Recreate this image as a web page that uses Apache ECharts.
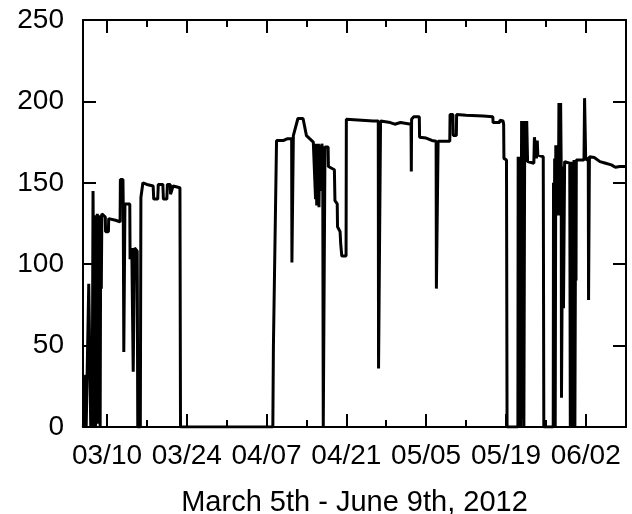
<!DOCTYPE html>
<html><head><meta charset="utf-8">
<script src="https://cdn.jsdelivr.net/npm/echarts@6/dist/echarts.min.js"></script>
<style>html,body{margin:0;padding:0;background:#fff}#c{width:632px;height:514px}</style>
</head><body><div id="c"></div>
<script>
// x values: days since 2012-03-01 00:00 (Mar 10 = 9, Jun 2 = 93)
const days = [
  4.85,5.15,5.25,5.35,5.7,5.8,6.05,6.15,6.3,6.4,6.55,6.7,6.8,6.9,7.0,7.1,7.2,7.3,7.4,7.5,7.6,7.7,7.8,7.9,8.0,8.1,
  8.7,8.75,9.25,9.3,10.5,11.3,11.35,11.8,11.85,11.95,12.1,12.15,13.0,13.05,13.3,13.35,13.55,13.6,13.8,13.85,14.3,14.4,
  14.85,14.95,15.3,16.0,16.1,17.1,17.2,17.9,18.0,18.8,18.9,19.5,19.6,20.1,20.15,20.5,20.6,21.8,21.9,
  38.1,38.2,38.75,40.0,40.6,41.4,41.45,41.65,41.7,42.0,42.5,43.4,44.0,44.6,45.2,45.5,45.6,45.7,45.8,45.9,46.0,46.1,
  46.2,46.3,46.4,46.5,46.6,46.7,46.85,46.95,47.15,47.25,47.8,47.85,48.9,49.0,49.4,49.45,49.9,50.0,50.2,50.95,
  51.0,55.7,56.6,56.65,56.95,57.0,58.7,59.5,60.5,62.35,62.4,62.45,62.8,63.8,63.85,65.0,66.0,66.75,66.8,67.05,67.1,
  69.15,69.2,69.7,69.75,70.3,70.35,72.0,75.0,76.7,76.75,77.9,77.95,78.5,78.6,78.65,79.1,79.2,
  81.1,81.15,81.3,81.45,81.6,81.75,81.9,82.0,82.15,82.3,82.5,82.65,82.8,83.9,84.0,84.3,84.35,84.5,84.6,85.55,85.65,
  87.3,87.35,87.45,87.55,87.65,87.75,87.9,88.0,88.2,88.3,88.45,88.5,88.6,88.7,88.75,88.95,89.0,89.1,89.25,89.3,
  90.2,90.3,90.45,90.55,90.7,90.8,90.95,91.1,91.25,91.3,91.35,92.7,92.8,92.95,93.0,93.45,93.5,93.6,93.65,
  94.5,95.5,96.5,97.5,98.2,99.0,100.07
];
const values = [
  0,0,32,0,0,88,88,0,52,0,145,145,0,130,0,128,3,131,2,129,40,130,0,129,85,131,
  129,120,120,128,127,126,152,152,137,46,46,137,137,103,103,110,110,34,34,110,108,0,
  0,141,150,149,148,148,140,140,149,149,140,140,149,149,143,143,148,147,0,
  0,49,176,176,177,177,101,101,179,179,189.5,189.5,179,177,175,175,140,174,136,173,150,174,
  135,172,145,173,160,174,170,0,0,172,172,160,158,139,137,123,120,113,105,105,
  189,188,188,36,36,188,187,186,187,186,157,189,190.5,190.5,178,177.5,176,175.5,85,85,175.5,
  175.5,192,192,179,179,192,191.5,191,190.5,187,187,188.5,188,186,165,164,0,
  0,166,0,166,0,188,5,188,0,188,170,188,163,162,178,178,165,176,167,166,0,
  0,150,10,165,0,173,173,160,130,199,199,135,199,160,18,18,160,73,73,163,
  162,0,163,0,163,0,164,0,164,90,164,164,202,202,164,165,78,78,166,
  165.5,163,162,161,159.5,160,160
];
const majorTickDays = [9, 23, 37, 51, 65, 79, 93];
const tickLabels = ['03/10', '03/24', '04/07', '04/21', '05/05', '05/19', '06/02'];
const minorTickDays = [16, 30, 44, 58, 72, 86, 100];
const xTitle = 'March 5th - June 9th, 2012';
const xMin = 4.79, xMax = 100.07;
const yMin = 0, yMax = 250, yStep = 50;

const FONT = "'Liberation Sans', Arial, Helvetica, sans-serif";
const BLACK = '#000';
// grid 0 = plot area with bottom/left/right axes; grid 1 = same rect, carries the top frame axes
const RECT = { left: 83, right: 6, top: 20, bottom: 87, outerBoundsMode: 'none' };

function labelFor(v) {
  for (let i = 0; i < majorTickDays.length; i++) {
    if (Math.abs(majorTickDays[i] - v) < 1e-6) return tickLabels[i];
  }
  return '';
}
function xAxisDef(gridIndex, ticks, len, withLabels, showLine) {
  const ax = {
    type: 'value', gridIndex, position: gridIndex === 0 ? 'bottom' : 'top', offset: 0, min: xMin, max: xMax,
    axisLine: { show: showLine, lineStyle: { color: BLACK, width: 2 } },
    axisTick: { show: true, inside: true, length: len, customValues: ticks,
                lineStyle: { color: BLACK, width: 2 } },
    axisLabel: { show: false },
    splitLine: { show: false }
  };
  if (withLabels) {
    ax.axisLabel = {
      show: true, customValues: ticks, formatter: labelFor, color: BLACK,
      fontSize: 28, fontFamily: FONT, margin: 15
    };
    ax.name = xTitle;
    ax.nameLocation = 'middle';
    ax.nameGap = 61;
    ax.nameTextStyle = { color: BLACK, fontSize: 29, fontFamily: FONT };
  }
  return ax;
}
function yAxisDef(position, withLabels) {
  return {
    type: 'value', gridIndex: 0, position, min: yMin, max: yMax, interval: yStep,
    axisLine: { show: true, lineStyle: { color: BLACK, width: 2 } },
    axisTick: { show: true, inside: true, length: 13, lineStyle: { color: BLACK, width: 2 } },
    axisLabel: withLabels ? { show: true, color: BLACK, fontSize: 28, fontFamily: FONT, margin: 19 } : { show: false },
    splitLine: { show: false }
  };
}

const chart = echarts.init(document.getElementById('c'));
chart.setOption({
  animation: false,
  backgroundColor: '#fff',
  grid: [Object.assign({}, RECT), Object.assign({}, RECT)],
  xAxis: [
    xAxisDef(0, majorTickDays, 13, true, true),
    xAxisDef(0, minorTickDays, 7, false, false),
    xAxisDef(1, majorTickDays, 13, false, true),
    xAxisDef(1, minorTickDays, 7, false, false)
  ],
  yAxis: [
    yAxisDef('left', true),
    yAxisDef('right', false),
    // helper axis for grid 1; its range does not cross zero so the top axes stay at the top edge
    { type: 'value', gridIndex: 1, min: 1, max: 2,
      axisLine: { show: false }, axisTick: { show: false }, axisLabel: { show: false }, splitLine: { show: false } }
  ],
  series: [{
    type: 'line',
    xAxisIndex: 0, yAxisIndex: 0,
    data: days.map((d, i) => [d, values[i]]),
    showSymbol: false,
    symbol: 'none',
    lineStyle: { color: BLACK, width: 3 }
  }]
});
</script>
</body></html>
